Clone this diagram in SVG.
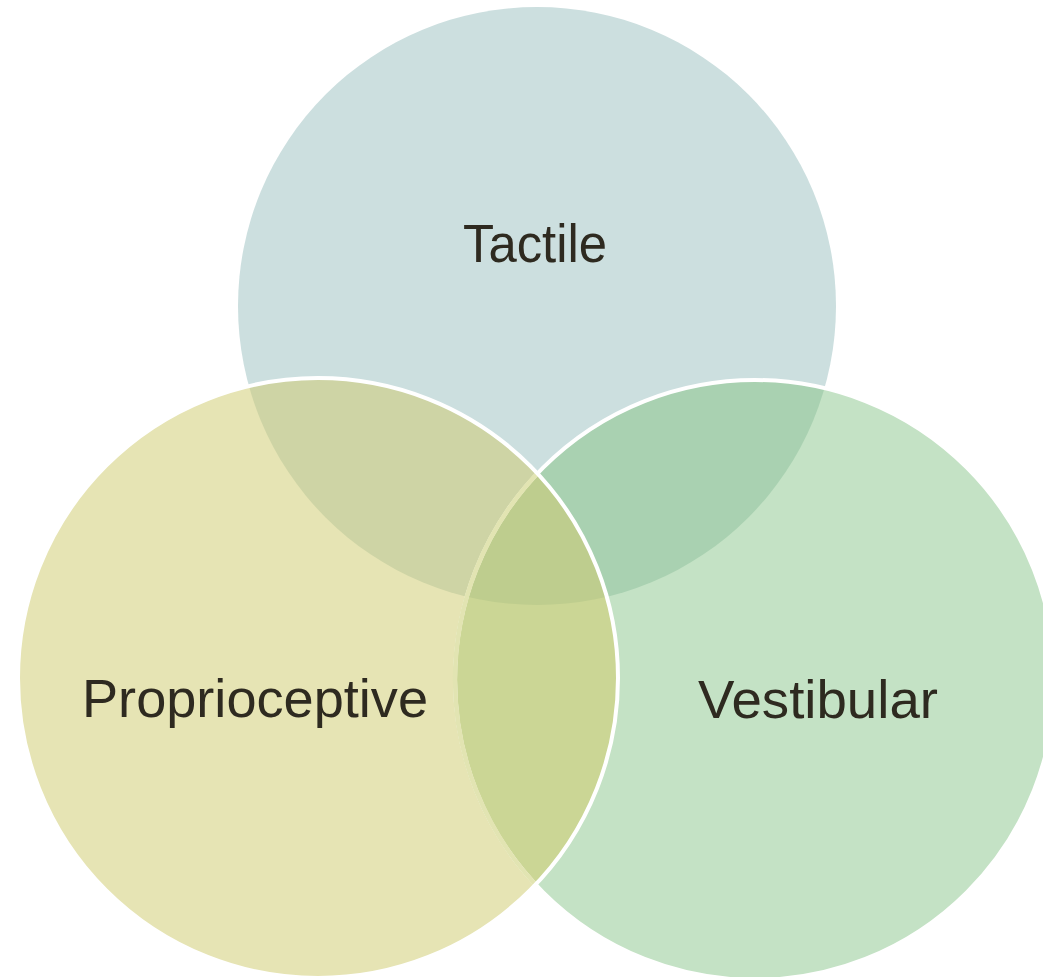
<svg xmlns="http://www.w3.org/2000/svg" width="1043" height="977" viewBox="0 0 1043 977">
  <defs>
    <clipPath id="clipT"><circle cx="537" cy="306" r="299"/></clipPath>
    <clipPath id="clipP"><circle cx="318" cy="678" r="300"/></clipPath>
    <clipPath id="clipV"><circle cx="755" cy="680" r="300"/></clipPath>
    <style>
      .lbl { font-family: "Century Gothic", "Liberation Sans", "DejaVu Sans", sans-serif; font-size: 53px; fill: #2e2a20; }
    </style>
  </defs>
  <rect x="0" y="0" width="1043" height="977" fill="#ffffff"/>

  <g id="tactile">
    <circle cx="537" cy="306" r="299" fill="#ccdfdf"/>
  </g>
  <g id="vestibular">
    <circle cx="755" cy="680" r="300" fill="#c4e2c5"/>
  </g>
  <g id="proprioceptive">
    <circle cx="318" cy="678" r="300" fill="#e6e4b4"/>
  </g>

  <g id="overlaps">
    <circle cx="755" cy="680" r="300" fill="#a9d1b1" clip-path="url(#clipT)"/>
    <circle cx="318" cy="678" r="300" fill="#ced4a5" clip-path="url(#clipT)"/>
    <circle cx="318" cy="678" r="300" fill="#cbd695" clip-path="url(#clipV)"/>
    <g clip-path="url(#clipT)">
      <circle cx="318" cy="678" r="300" fill="#becd8e" clip-path="url(#clipV)"/>
    </g>
  </g>

  <g id="outlines" fill="none">
    <circle cx="755" cy="680" r="300" stroke="#ffffff" stroke-width="4"/>
    <circle cx="755" cy="680" r="300" stroke="#e2e4b2" stroke-width="4.5" clip-path="url(#clipP)"/>
    <circle cx="318" cy="678" r="300" stroke="#ffffff" stroke-width="4"/>
  </g>

  <g id="labels">
    <text class="lbl" x="535" y="262" text-anchor="middle" textLength="144" lengthAdjust="spacingAndGlyphs">Tactile</text>
    <text class="lbl" x="255" y="717" text-anchor="middle" textLength="346" lengthAdjust="spacingAndGlyphs">Proprioceptive</text>
    <text class="lbl" x="818" y="718" text-anchor="middle" textLength="240" lengthAdjust="spacingAndGlyphs">Vestibular</text>
  </g>
</svg>
